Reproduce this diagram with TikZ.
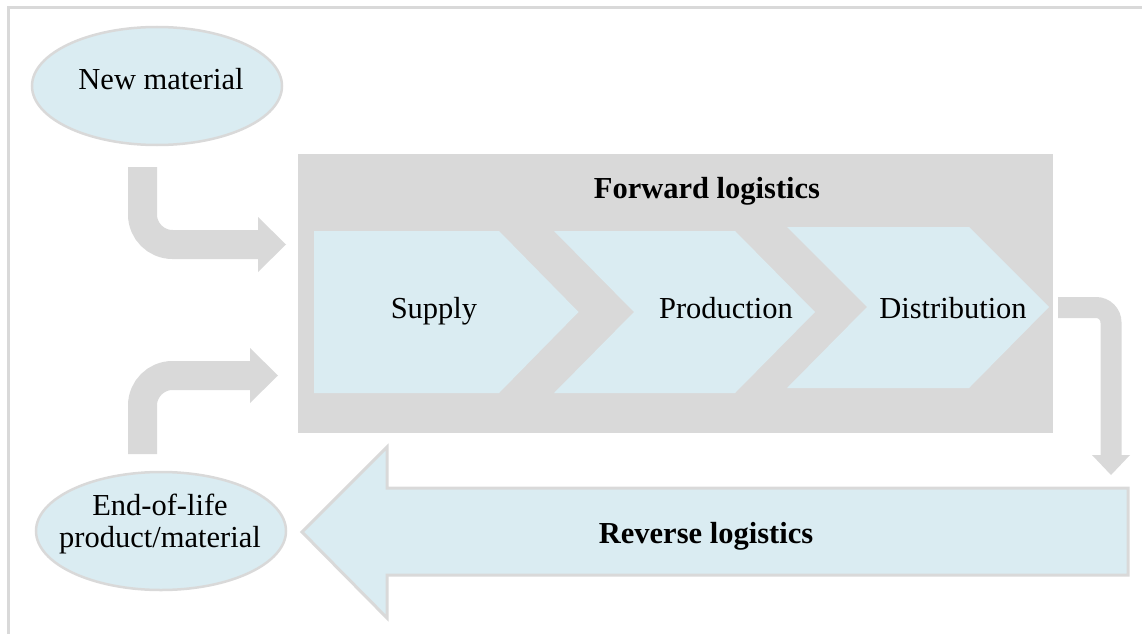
\documentclass[tikz,border=0pt]{standalone}
\usepackage{fontspec}
\setmainfont{Liberation Serif}
\usetikzlibrary{shapes.geometric,arrows.meta}
\definecolor{paleblue}{HTML}{DAECF2}
\definecolor{softgray}{HTML}{D9D9D9}
\tikzset{
  oval/.style={ellipse, draw=softgray, line width=2.5pt, fill=paleblue,
    minimum width=250pt, minimum height=118pt, inner sep=0pt},
  txt/.style={inner sep=0pt, align=center, font=\fontsize{30.5}{32}\selectfont},
  boldtxt/.style={txt, font=\fontsize{30.5}{32}\selectfont\bfseries},
  bentarrow/.style={draw=softgray, line width=29pt, rounded corners=30pt,
    -{Triangle[length=28pt,width=55pt,line width=0pt]}},
}

\begin{document}
\begin{tikzpicture}[x=1pt,y=-1pt]
  \useasboundingbox (0,0) rectangle (1142,634);
  % frame
  \draw[softgray, line width=3pt] (1142,8) -- (8,8) -- (8,634);

  % forward logistics block
  \node[fill=softgray, minimum width=755pt, minimum height=279pt, inner sep=0pt] (fwd) at (675.5,293.5) {};
  \node[boldtxt, anchor=base] (fwdlbl) at (707,198) {Forward logistics};
  \fill[paleblue] (314,231) -- (499,231) -- (578.5,312) -- (499,393) -- (314,393) -- cycle;
  \fill[paleblue] (554,231) -- (735,231) -- (815,312) -- (735,393) -- (554,393) -- (634,312) -- cycle;
  \fill[paleblue] (787,227) -- (969,227) -- (1049,307) -- (969,388) -- (787,388) -- (867,307) -- cycle;
  \node[txt, anchor=base] (supply) at (434,318) {Supply};
  \node[txt, anchor=base] (prod) at (726,318) {Production};
  \node[txt, anchor=base] (dist) at (953,318) {Distribution};

  % sources
  \node[oval] (newmat) at (157,86) {};
  \node[txt, anchor=base] (newmatlbl) at (161,89) {New material};
  \node[oval] (eol) at (161,531) {};
  \node[txt, anchor=north] (eollbl) at (160,494) {End-of-life\\product/material};

  % reverse logistics
  \draw[softgray, fill=paleblue, line width=3pt] (1128,488) -- (1128,575) -- (387,575)
    -- (387,618) -- (302,532) -- (387,447) -- (387,488) -- cycle;
  \node[boldtxt, anchor=base] (rev) at (706,543) {Reverse logistics};

  % bent arrows
  \coordinate (in1) at (142.5,167);
  \coordinate (out1) at (286,244.5);
  \coordinate (in2) at (142.5,454);
  \coordinate (out2) at (278,375.5);
  \coordinate (in3) at (1058,307.5);
  \coordinate (out3) at (1111,475);
  \draw[bentarrow] (in1) |- (out1);
  \draw[bentarrow] (in2) |- (out2);
  \draw[bentarrow, line width=21pt, rounded corners=15pt,
    -{Triangle[length=20pt,width=38pt,line width=0pt]}] (in3) -| (out3);
\end{tikzpicture}
\end{document}
